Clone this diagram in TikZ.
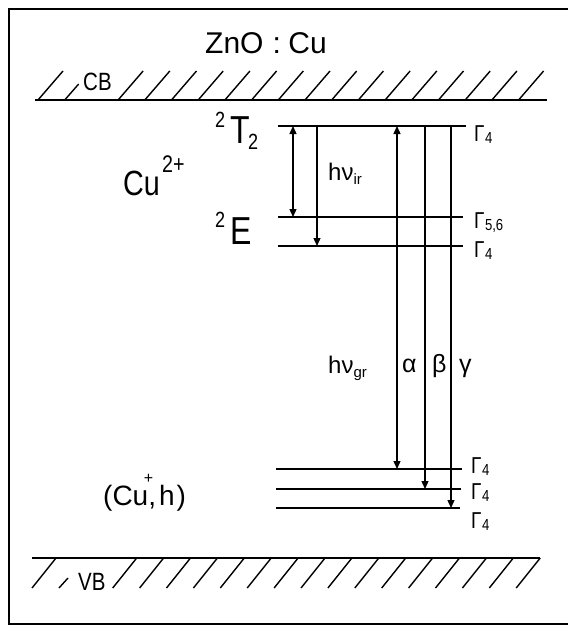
\documentclass[tikz,border=0pt]{standalone}
\usepackage{fontspec}
\setmainfont{Liberation Sans}
\newfontfamily\nf{Liberation Sans}[FakeStretch=0.82]
\usetikzlibrary{arrows.meta}
\newcommand\fs[1]{\fontsize{#1}{#1}\selectfont}
\newcommand\Gsub[1]{Γ\kern0.02em\raisebox{-0.12em}{\fs{16}#1}}
\begin{document}
\begin{tikzpicture}[x=1pt,y=-1pt,
  lbl/.style={inner sep=0pt, anchor=base west},
  glbl/.style={inner sep=0pt, anchor=base west, font=\nf\fs{23}},
  lev/.style={line width=2.8pt},
  band/.style={line width=2.5pt},
  hatch/.style={line width=1.4pt},
  trans/.style={line width=1.3pt},
  frame/.style={line width=2pt},
  dn/.style={-{Triangle[length=8pt,width=7pt]}},
  both/.style={{Triangle[length=8pt,width=7pt]}-{Triangle[length=8pt,width=7pt]}}]
\useasboundingbox (0,0) rectangle (568,626);
% frame
\draw[frame] (568,9) -- (9,9) -- (9,624) -- (568,624);
% title
\node[lbl, font=\fs{30}] (title) at (205,53) {ZnO\hspace{0.3em}:\hspace{0.25em}Cu};
% conduction band
\draw[band] (35,100) -- (547,100);
\draw[hatch] (38,100) -- ++(25,-29);
\draw[hatch] (64.7,100) -- ++(14,-16);
\foreach \k in {3,...,18} {\draw[hatch] ({38+\k*26.7},100) -- ++(25,-29);}
\node[lbl, font=\nf\fs{25}] (CB) at (83,90) {CB};
% valence band
\draw[band] (32,558) -- (540,558);
\draw[hatch] (32,588) -- ++(24,-30);
\draw[hatch] (59,588) -- ++(9,-10);
\foreach \k in {3,...,18} {\draw[hatch] ({32+\k*26.9},588) -- ++(24,-30);}
\node[lbl, font=\nf\fs{25}] (VB) at (78,590) {VB};
% levels
\draw[lev] (278,126) -- (466,126);
\draw[lev] (278,217) -- (463,217);
\draw[lev] (278,246) -- (463,246);
\draw[lev] (276,469) -- (462,469);
\draw[lev] (276,489) -- (461,489);
\draw[lev] (276,508) -- (460,508);
% level labels
\node[lbl, font=\nf\fs{35}] (Cu) at (123,195) {Cu};
\node[lbl, font=\nf\fs{24}] (Cusup) at (162,172) {2+};
\node[lbl, font=\nf\fs{22}] (Tsup) at (215,127) {2};
\node[lbl, font=\nf\fs{39}] (T) at (230,143) {T};
\node[lbl, font=\nf\fs{22}] (Tsub) at (248,149) {2};
\node[lbl, font=\nf\fs{22}] (Esup) at (215,227) {2};
\node[lbl, font=\nf\fs{39}] (E) at (230,244) {E};
\node[lbl, font=\fs{28}] (Cuh) at (103,505)
  {(Cu\llap{\raisebox{22pt}{\fs{16}+}\kern-5pt},\kern3pt h\kern2pt)};
\node[glbl] (G1) at (474,141) {\Gsub{4}};
\node[glbl] (G2) at (474,228) {\Gsub{5,6}};
\node[glbl] (G3) at (474,257) {\Gsub{4}};
\node[glbl] (G4) at (471,473) {\Gsub{4}};
\node[glbl] (G5) at (471,499) {\Gsub{4}};
\node[glbl] (G6) at (471,528) {\Gsub{4}};
% transition end points
\coordinate (a1t) at (293,126); \coordinate (a1b) at (293,217);
\coordinate (a2t) at (317,126); \coordinate (a2b) at (317,246);
\coordinate (alt) at (397,126); \coordinate (alb) at (397,469);
\coordinate (bet) at (425,126); \coordinate (beb) at (425,489);
\coordinate (gat) at (451,126); \coordinate (gab) at (451,508);
\draw[trans, both] (a1t) -- (a1b);
\draw[trans, dn] (a2t) -- (a2b);
\draw[trans, both] (alt) -- (alb);
\draw[trans, dn] (bet) -- (beb);
\draw[trans, dn] (gat) -- (gab);
% transition labels
\node[lbl, font=\fs{24}] (hvir) at (328,180) {hν\raisebox{-4pt}{\fs{15}ir}};
\node[lbl, font=\fs{24}] (hvgr) at (328,373) {hν\raisebox{-4pt}{\fs{15}gr}};
\node[lbl, font=\fs{25}] (alpha) at (402,372) {α};
\node[lbl, font=\fs{25}] (beta) at (432,372) {β};
\node[lbl, font=\fs{25}] (gamma) at (459,372) {γ};
\end{tikzpicture}
\end{document}
